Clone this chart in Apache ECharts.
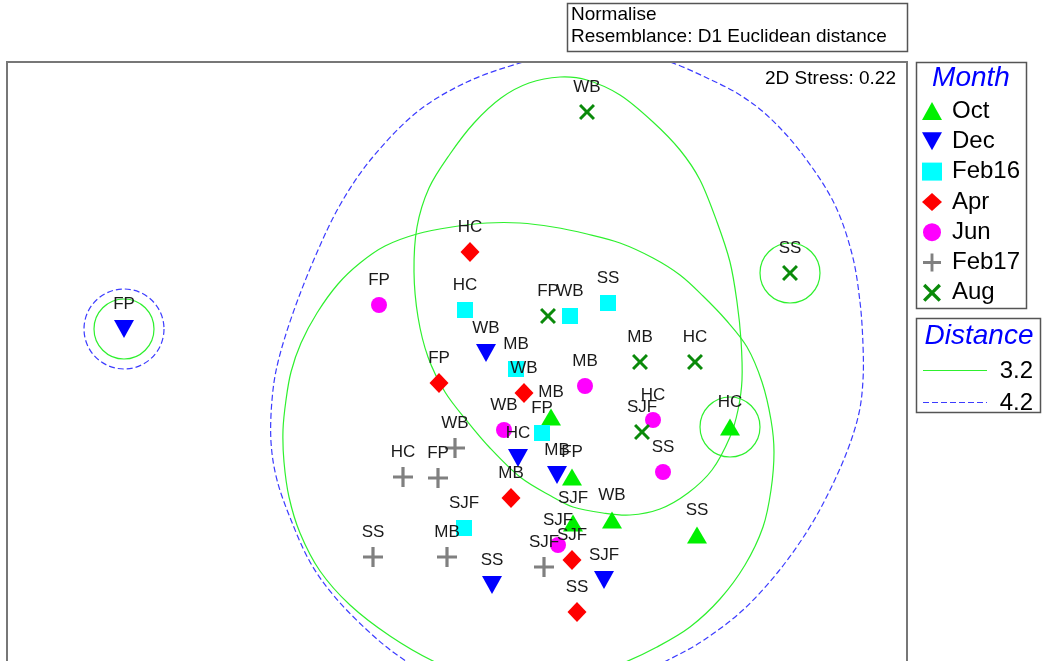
<!DOCTYPE html>
<html>
<head>
<meta charset="utf-8">
<title>nMDS ordination by month</title>
<script src="https://cdn.jsdelivr.net/npm/echarts@6/dist/echarts.min.js"></script>
<style>
  html, body { margin: 0; padding: 0; background: #ffffff; }
  #chart { width: 1042px; height: 661px; }
</style>
</head>
<body>
<div id="chart"></div>
<script>
// nMDS ordination coordinates (x, y, site) for each sampling month
const months = ['Oct', 'Dec', 'Feb16', 'Apr', 'Jun', 'Feb17', 'Aug'];

const octPoints = [
  [5.44, 2.65, 'MB'], [5.65, 2.05, 'FP'], [5.66, 1.59, 'SJF'],
  [6.05, 1.62, 'WB'], [6.90, 1.47, 'SS'], [7.23, 2.55, 'HC']
];
const decPoints = [
  [1.17, 3.53, 'FP'], [4.79, 3.29, 'WB'], [5.11, 2.24, 'HC'],
  [5.50, 2.07, 'MB'], [4.85, 0.97, 'SS'], [5.97, 1.02, 'SJF']
];
const feb16Points = [
  [4.58, 3.72, 'HC'], [5.63, 3.66, 'WB'], [6.01, 3.79, 'SS'],
  [5.09, 3.13, 'MB'], [5.35, 2.49, 'FP'], [4.57, 1.54, 'SJF']
];
const aprPoints = [
  [4.63, 4.30, 'HC'], [4.32, 2.99, 'FP'], [5.17, 2.89, 'WB'],
  [5.04, 1.84, 'MB'], [5.65, 1.22, 'SJF'], [5.70, 0.70, 'SS']
];
const junPoints = [
  [3.72, 3.77, 'FP'], [5.78, 2.96, 'MB'], [4.97, 2.52, 'WB'],
  [6.46, 2.62, 'HC'], [6.56, 2.10, 'SS'], [5.51, 1.37, 'SJF']
];
const feb17Points = [
  [4.48, 2.34, 'WB'], [3.96, 2.05, 'HC'], [4.31, 2.04, 'FP'],
  [3.66, 1.25, 'SS'], [4.40, 1.25, 'MB'], [5.37, 1.15, 'SJF']
];
const augPoints = [
  [5.80, 5.70, 'WB'], [7.83, 4.09, 'SS'], [5.41, 3.66, 'FP'],
  [6.33, 3.20, 'MB'], [6.88, 3.20, 'HC'], [6.35, 2.50, 'SJF']
];

// Cluster contours at resemblance distance 3.2 and 4.2
const distanceLevels = ['3.2', '4.2'];

const contour32Upper = [
  [5.53, 6.05], [5.80, 6.02], [6.13, 5.87], [6.46, 5.60], [6.73, 5.32],
  [6.93, 5.02], [7.10, 4.60], [7.23, 4.20], [7.30, 3.80], [7.34, 3.42],
  [7.35, 3.02], [7.31, 2.72], [7.23, 2.45], [7.05, 2.12], [6.81, 1.89],
  [6.53, 1.73], [6.23, 1.67], [5.96, 1.69], [5.66, 1.75], [5.44, 1.86],
  [5.13, 2.05], [4.83, 2.34], [4.60, 2.61], [4.38, 2.90], [4.21, 3.25],
  [4.11, 3.65], [4.07, 4.10], [4.10, 4.55], [4.22, 4.94], [4.43, 5.28],
  [4.67, 5.59], [4.94, 5.84], [5.22, 5.99]
];
const contour32Lower = [
  [5.13, 4.59], [5.46, 4.55], [5.80, 4.48], [6.13, 4.39], [6.46, 4.24],
  [6.73, 4.07], [6.96, 3.86], [7.19, 3.62], [7.40, 3.35], [7.55, 3.00],
  [7.64, 2.62], [7.67, 2.30], [7.64, 1.92], [7.56, 1.55], [7.38, 1.17],
  [7.13, 0.83], [6.83, 0.55], [6.50, 0.35], [6.16, 0.19], [5.73, 0.04],
  [5.23, -0.04], [4.73, 0.02], [4.26, 0.21], [3.83, 0.46], [3.43, 0.77],
  [3.13, 1.11], [2.93, 1.49], [2.82, 1.85], [2.77, 2.20], [2.76, 2.52],
  [2.79, 2.82], [2.84, 3.10], [2.94, 3.39], [3.10, 3.69], [3.31, 3.98],
  [3.53, 4.19], [3.78, 4.36], [4.10, 4.48], [4.45, 4.55], [4.80, 4.59]
];
const contour42Outer = [
  [5.13, 6.19], [5.53, 6.28], [5.93, 6.31], [6.33, 6.27], [6.63, 6.20],
  [6.98, 6.05], [7.33, 5.87], [7.63, 5.64], [7.96, 5.27], [8.27, 4.79],
  [8.45, 4.28], [8.53, 3.80], [8.56, 3.37], [8.56, 3.02], [8.52, 2.69],
  [8.41, 2.33], [8.23, 1.92], [8.01, 1.52], [7.71, 1.10], [7.36, 0.72],
  [6.97, 0.42], [6.63, 0.23], [6.23, 0.04], [5.63, -0.13], [4.93, -0.15],
  [4.33, 0.02], [3.93, 0.25], [3.60, 0.52], [3.27, 0.86], [3.03, 1.20],
  [2.84, 1.62], [2.70, 2.02], [2.64, 2.40], [2.65, 2.82], [2.71, 3.20],
  [2.86, 3.69], [3.08, 4.25], [3.33, 4.77], [3.65, 5.24], [4.10, 5.70],
  [4.60, 6.00]
];
// Single-sample clusters drawn as rings: centre x, centre y, radius
const rings32 = [[1.17, 3.53, 0.30], [7.83, 4.09, 0.30], [7.23, 2.55, 0.30]];
const rings42 = [[1.17, 3.53, 0.40]];

const FONT = "'Liberation Sans', Arial, sans-serif";
const GREEN_LINE = '#2ef02e';
const BLUE_LINE = '#3c3cff';

const DOWN_TRIANGLE_PATH = 'path://M0,0H20L10,18Z';
const PLUS_PATH = 'path://M8.4,0H11.6V8.4H20V11.6H11.6V20H8.4V11.6H0V8.4H8.4Z';
const CROSS_PATH = 'path://M2.1,0L8,5.9L13.9,0L16,2.1L10.1,8L16,13.9L13.9,16L8,10.1L2.1,16L0,13.9L5.9,8L0,2.1Z';

const monthStyle = {
  Oct:   { data: octPoints,   symbol: 'triangle',         size: [20, 17], color: '#00f000' },
  Dec:   { data: decPoints,   symbol: DOWN_TRIANGLE_PATH, size: [20, 18], color: '#0000ff' },
  Feb16: { data: feb16Points, symbol: 'rect',             size: 16,       color: '#00ffff' },
  Apr:   { data: aprPoints,   symbol: 'diamond',          size: [19, 20], color: '#ff0000' },
  Jun:   { data: junPoints,   symbol: 'circle',           size: 16,       color: '#ff00ff' },
  Feb17: { data: feb17Points, symbol: PLUS_PATH,          size: 20,       color: '#808080' },
  Aug:   { data: augPoints,   symbol: CROSS_PATH,         size: 16,       color: '#0a8a0a' }
};

// Closed Catmull-Rom outline through the projected contour vertices
function closedSplinePath(pts) {
  const n = pts.length;
  let d = 'M' + pts[0][0] + ',' + pts[0][1];
  for (let i = 0; i < n; i++) {
    const p0 = pts[(i - 1 + n) % n], p1 = pts[i], p2 = pts[(i + 1) % n], p3 = pts[(i + 2) % n];
    const c1x = p1[0] + (p2[0] - p0[0]) / 6, c1y = p1[1] + (p2[1] - p0[1]) / 6;
    const c2x = p2[0] - (p3[0] - p1[0]) / 6, c2y = p2[1] - (p3[1] - p1[1]) / 6;
    d += 'C' + c1x + ',' + c1y + ',' + c2x + ',' + c2y + ',' + p2[0] + ',' + p2[1];
  }
  return d + 'Z';
}

function polygonContour(name, list, color, dash) {
  return {
    type: 'custom',
    name: name,
    clip: true,
    silent: true,
    z: 1,
    data: list.map((c, i) => [c[0][0], c[0][1], i]),
    renderItem: function (params, api) {
      const pts = list[api.value(2)].map(p => api.coord(p));
      return {
        type: 'path',
        shape: { pathData: closedSplinePath(pts) },
        style: { fill: 'none', stroke: color, lineWidth: 1.2, lineDash: dash || null }
      };
    }
  };
}

function ringContour(name, rings, color, dash) {
  return {
    type: 'custom',
    name: name,
    clip: true,
    silent: true,
    z: 1,
    data: rings,
    renderItem: function (params, api) {
      const c = api.coord([api.value(0), api.value(1)]);
      const r = api.size([api.value(2), api.value(2)])[0];
      return {
        type: 'circle',
        shape: { cx: c[0], cy: c[1], r: r },
        style: { fill: 'none', stroke: color, lineWidth: 1.2, lineDash: dash || null }
      };
    }
  };
}

const scatterSeries = months.map(m => {
  const s = monthStyle[m];
  return {
    type: 'scatter',
    name: m,
    z: 3,
    symbol: s.symbol,
    symbolSize: s.size,
    itemStyle: { color: s.color, opacity: 1 },
    label: {
      show: true,
      position: 'inside',
      offset: [0, -25],
      formatter: '{b}',
      color: '#1a1a1a',
      fontSize: 17,
      fontFamily: FONT
    },
    emphasis: { disabled: true },
    data: s.data.map(d => ({ name: d[2], value: [d[0], d[1]] }))
  };
});

const chart = echarts.init(document.getElementById('chart'), null, { renderer: 'canvas' });

chart.setOption({
  animation: false,
  backgroundColor: '#ffffff',
  // plotting area runs off the lower edge of the canvas, so its frame is drawn open at the bottom
  grid: { left: 7, top: 62, width: 900, height: 599, show: false },
  xAxis: {
    type: 'value', min: 0, max: 9,
    axisLine: { show: false }, axisTick: { show: false },
    axisLabel: { show: false }, splitLine: { show: false }
  },
  yAxis: {
    type: 'value', min: 0.21, max: 6.2,
    axisLine: { show: false }, axisTick: { show: false },
    axisLabel: { show: false }, splitLine: { show: false }
  },
  legend: {
    data: months,
    orient: 'vertical',
    left: 922,
    top: 99,
    padding: 0,
    itemWidth: 20,
    itemHeight: 18,
    itemGap: 6.3,
    selectedMode: false,
    textStyle: { fontSize: 24, color: '#000000', fontFamily: FONT, padding: [0, 0, 0, 5] }
  },
  graphic: [
    // plot frame
    { type: 'polyline', z: 5, shape: { points: [[7, 670], [7, 62], [907, 62], [907, 670]] },
      style: { fill: 'none', stroke: '#777777', lineWidth: 2 } },
    // method annotation box
    { type: 'rect', shape: { x: 567.5, y: 3.5, width: 340, height: 48 },
      style: { fill: '#ffffff', stroke: '#555555', lineWidth: 1.5 } },
    { type: 'text', left: 571, top: 5,
      style: { text: 'Normalise', font: '19px ' + FONT, fill: '#000000' } },
    { type: 'text', left: 571, top: 27,
      style: { text: 'Resemblance: D1 Euclidean distance', font: '19px ' + FONT, fill: '#000000' } },
    // stress value
    { type: 'text', right: 146, top: 69, z: 10,
      style: { text: '2D Stress: 0.22', font: '19px ' + FONT, fill: '#000000' } },
    // month legend frame and title
    { type: 'rect', shape: { x: 916.5, y: 62.5, width: 110, height: 246 },
      style: { fill: 'none', stroke: '#555555', lineWidth: 1.5 } },
    { type: 'text', x: 971, y: 78,
      style: { text: 'Month', font: 'italic 28px ' + FONT, fill: '#0000ff', align: 'center', verticalAlign: 'middle' } },
    // distance legend
    { type: 'rect', shape: { x: 916.5, y: 318.5, width: 124, height: 94 },
      style: { fill: 'none', stroke: '#555555', lineWidth: 1.5 } },
    { type: 'text', x: 979, y: 336,
      style: { text: 'Distance', font: 'italic 28px ' + FONT, fill: '#0000ff', align: 'center', verticalAlign: 'middle' } },
    { type: 'line', shape: { x1: 923, y1: 370.5, x2: 987, y2: 370.5 },
      style: { stroke: GREEN_LINE, lineWidth: 1.2 } },
    { type: 'text', x: 1033, y: 371,
      style: { text: distanceLevels[0], font: '24px ' + FONT, fill: '#000000', align: 'right', verticalAlign: 'middle' } },
    { type: 'line', shape: { x1: 923, y1: 402.5, x2: 987, y2: 402.5 },
      style: { stroke: BLUE_LINE, lineWidth: 1.2, lineDash: [6, 3] } },
    { type: 'text', x: 1033, y: 403,
      style: { text: distanceLevels[1], font: '24px ' + FONT, fill: '#000000', align: 'right', verticalAlign: 'middle' } }
  ],
  series: [
    polygonContour('4.2', [contour42Outer], BLUE_LINE, [6, 3]),
    ringContour('4.2', rings42, BLUE_LINE, [6, 3]),
    polygonContour('3.2', [contour32Upper, contour32Lower], GREEN_LINE, null),
    ringContour('3.2', rings32, GREEN_LINE, null)
  ].concat(scatterSeries)
});
</script>
</body>
</html>
